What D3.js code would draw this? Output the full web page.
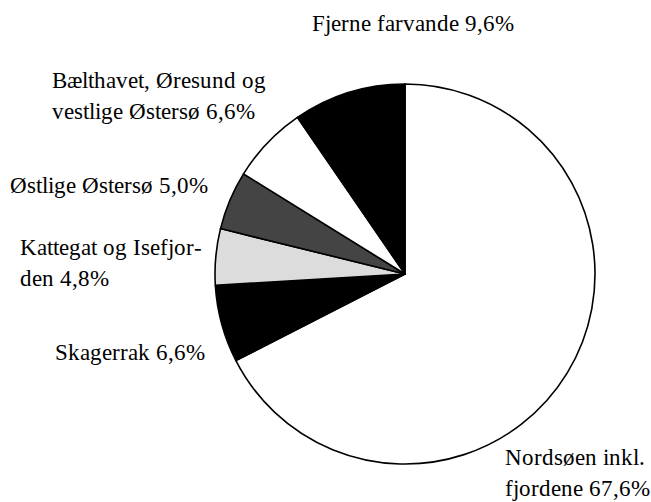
<!DOCTYPE html>
<html>
<head>
<meta charset="utf-8">
<script src="https://cdn.jsdelivr.net/npm/d3@7"></script>
<style>
  @font-face {
    font-family: "ChartSerif";
    src: local("Liberation Serif"), local("LiberationSerif"), local("LiberationSerif-Regular"), local("Times New Roman");
  }
</style>
</head>
<body style="margin:0">
<svg id="chart" width="651" height="502"></svg>
<script>
// Data (clockwise from 12 o'clock)
const categories = [
  "Nordsøen inkl. fjordene",
  "Skagerrak",
  "Kattegat og Isefjorden",
  "Østlige Østersø",
  "Bælthavet, Øresund og vestlige Østersø",
  "Fjerne farvande"
];
const values = [67.6, 6.6, 4.8, 5.0, 6.6, 9.6];
const valueLabels = ["67,6%", "6,6%", "4,8%", "5,0%", "6,6%", "9,6%"];
const labelLines = [
  ["Nordsøen inkl.", "fjordene 67,6%"],
  ["Skagerrak 6,6%"],
  ["Kattegat og Isefjor-", "den 4,8%"],
  ["Østlige Østersø 5,0%"],
  ["Bælthavet, Øresund og", "vestlige Østersø 6,6%"],
  ["Fjerne farvande 9,6%"]
];

// Styles / layout
const fills = ["#ffffff", "#000000", "#dcdcdc", "#444444", "#ffffff", "#000000"];
const cx = 405, cy = 274, r = 190;
const labelAnchors = [
  {x: 505, y: 465},
  {x: 55, y: 360},
  {x: 20, y: 255},
  {x: 10, y: 193},
  {x: 52, y: 88},
  {x: 312, y: 31}
];
const lineHeight = 31;
const serifStack = '"ChartSerif", "Liberation Serif", serif';

const svg = d3.select("#chart");
const pie = d3.pie().sort(null).value(d => d)(values);
const arc = d3.arc().innerRadius(0).outerRadius(r);

const g = svg.append("g").attr("transform", `translate(${cx},${cy})`);
g.selectAll("path")
  .data(pie)
  .join("path")
  .attr("d", arc)
  .attr("fill", (d, i) => fills[i])
  .attr("stroke", "#000")
  .attr("stroke-width", 1.6)
  .attr("stroke-linejoin", "round");

labelLines.forEach((lines, i) => {
  lines.forEach((t, j) => {
    svg.append("text")
      .attr("x", labelAnchors[i].x)
      .attr("y", labelAnchors[i].y + j * lineHeight)
      .style("font-family", serifStack)
      .style("font-size", "23px")
      .text(t);
  });
});
</script>
</body>
</html>
